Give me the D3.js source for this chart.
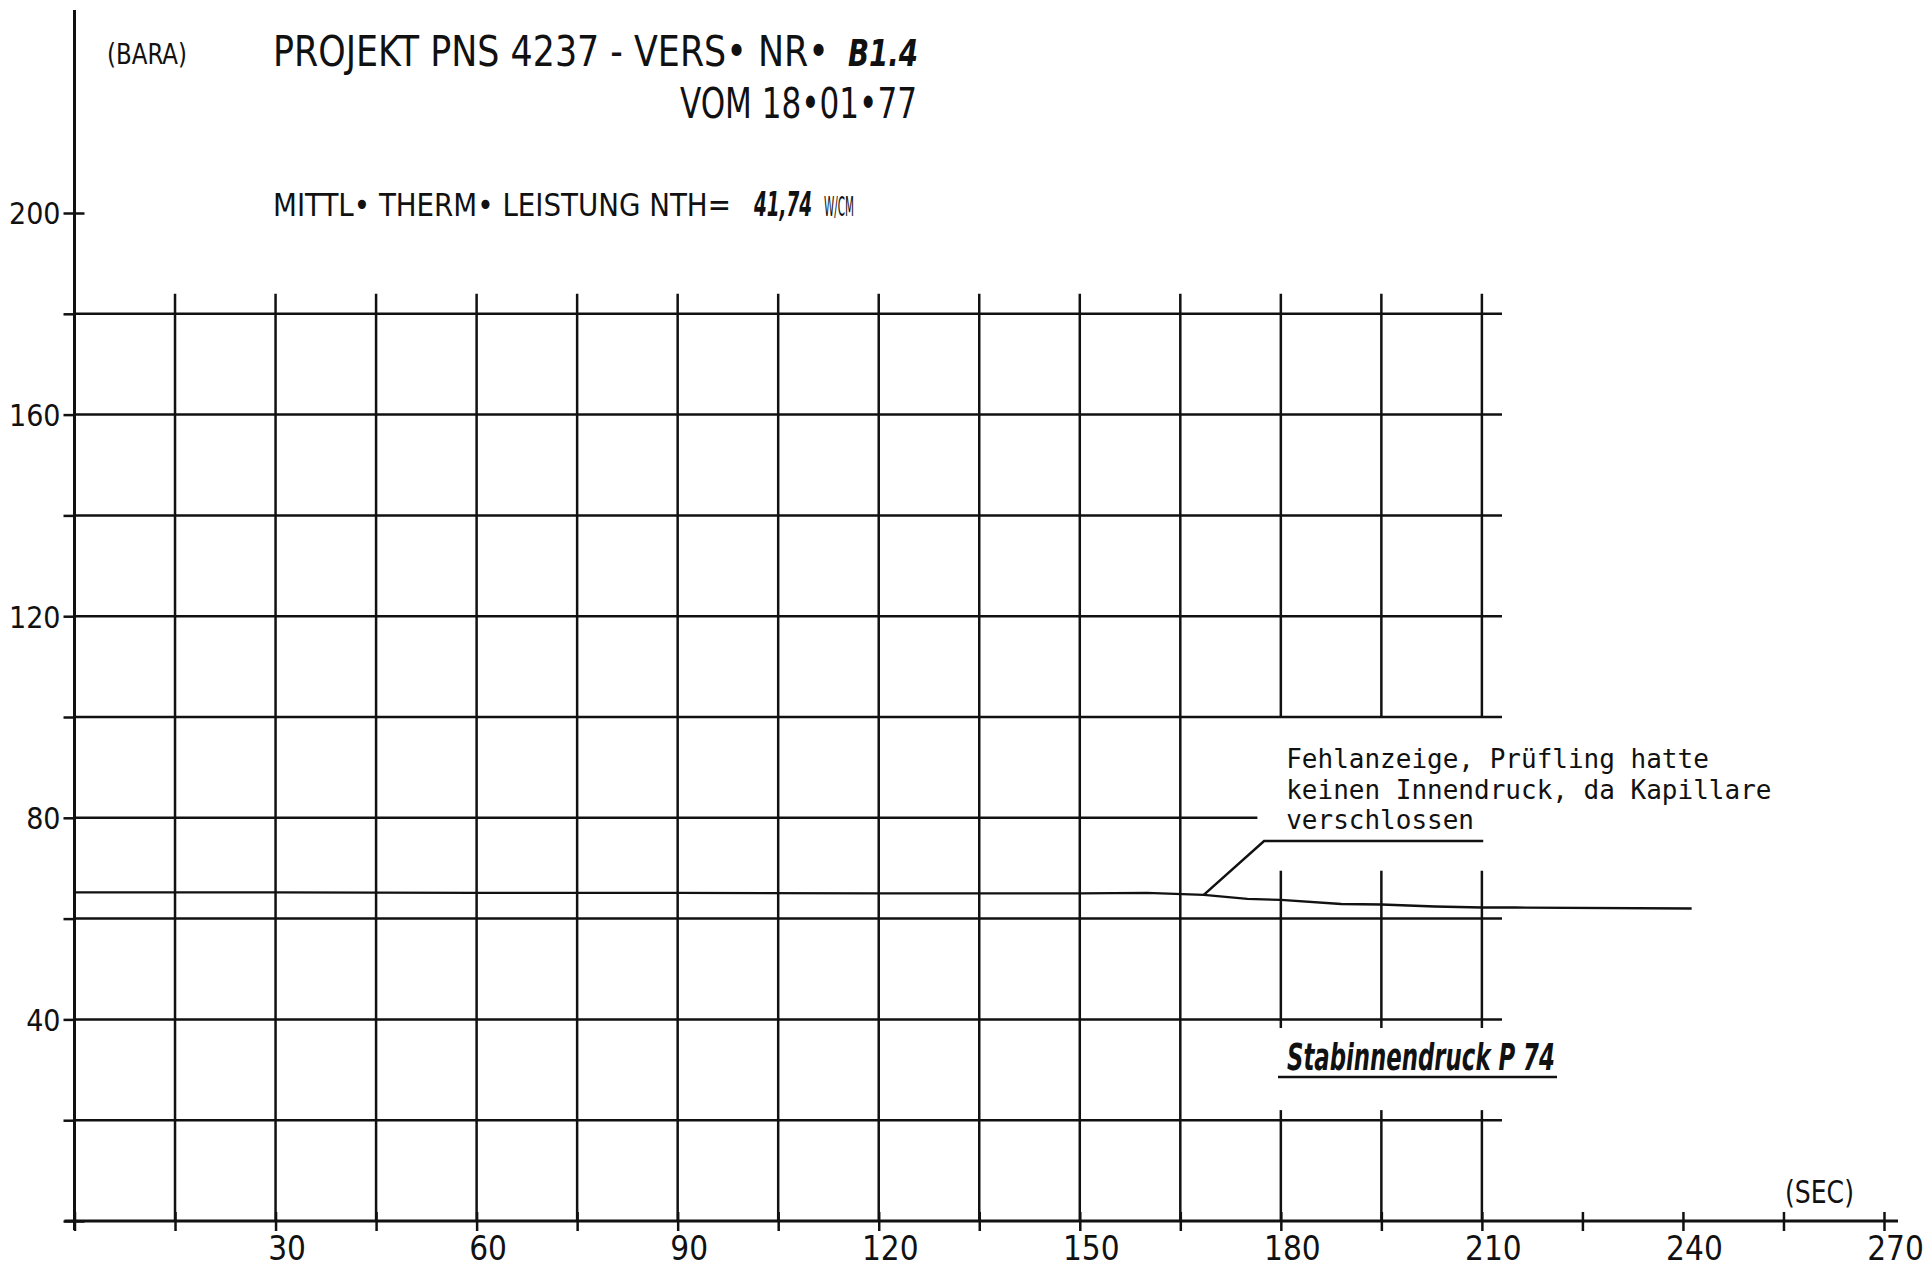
<!DOCTYPE html>
<html>
<head>
<meta charset="utf-8">
<script src="https://cdn.jsdelivr.net/npm/d3@7"></script>
<style>
  html, body { margin: 0; padding: 0; background: #fff; }
  svg { display: block; }
  .plot { font-family: "Liberation Sans Narrow", "DejaVu Sans Condensed", "Roboto Condensed", sans-serif; }
</style>
</head>
<body>
<svg id="chart" width="1928" height="1267"></svg>
<script>
// ---------------- data ----------------
const xTickValues = d3.range(0, 271, 15);
const xTickLabels = [30, 60, 90, 120, 150, 180, 210, 240, 270];
const yTickValues = d3.range(0, 201, 20);
const yTickLabels = [40, 80, 120, 160, 200];

const gridXValues = d3.range(15, 211, 15);
const gridYValues = d3.range(20, 181, 20);
const gridTop = 184;
const gridRight = 213;
const brokenGridX = [180, 195, 210];
const brokenSegments = [[0, 22], [38.3, 69.5], [100, 184]];
const shortGridY = 80;
const shortGridYEnd = 176.5;

// Stabinnendruck P74 (bar) over time (sec)
const seriesTime = [0, 30, 60, 90, 120, 150, 160, 168.5, 175, 180, 189, 195, 203, 210, 215, 241.3];
const seriesP74  = [65.2, 65.2, 65.1, 65.1, 65.0, 65.0, 65.1, 64.7, 63.9, 63.7, 62.9, 62.8, 62.4, 62.2, 62.2, 62.0];

// annotation leader
const leaderTime = [168.5, 177.5, 210.2];
const leaderP    = [64.7, 75.4, 75.4];
const noteLines = ["Fehlanzeige, Prüfling hatte", "keinen Innendruck, da Kapillare", "verschlossen"];
const noteBaseValues = [89.8, 83.7, 77.8];
const noteTime = 180.8;

const seriesLabel = "Stabinnendruck P 74";
const xUnit = "(SEC)";
const yUnit = "(BARA)";

// ---------------- drawing ----------------
const svg = d3.select("#chart");
const g = svg.append("g").attr("class", "plot");

const x = d3.scaleLinear().domain([0, 270]).range([74.5, 1884]);
const y = d3.scaleLinear().domain([0, 200]).range([1221, 213]);

const ink = "#111";
const labelFont = "'Liberation Sans Narrow', 'DejaVu Sans Condensed', sans-serif";

// text squeezed horizontally to a given width (plotter lettering is condensed)
function fitText(str, px, py, size, width, opts = {}) {
  const t = g.append("text")
    .attr("x", 0).attr("y", 0)
    .attr("font-size", size).attr("fill", ink)
    .attr("font-family", opts.family || labelFont)
    .text(str);
  if (opts.bold) t.attr("font-weight", "bold").attr("font-style", "italic");
  const w0 = t.node().getComputedTextLength() || width;
  t.attr("transform", `translate(${px},${py}) scale(${width / w0},1)`);
  return t;
}

// vertical grid lines
gridXValues.forEach(t => {
  const segs = brokenGridX.includes(t) ? brokenSegments : [[0, gridTop]];
  segs.forEach(([a, b]) => {
    g.append("line")
      .attr("x1", x(t)).attr("x2", x(t))
      .attr("y1", y(a)).attr("y2", y(b))
      .attr("stroke", ink).attr("stroke-width", 2.5);
  });
});

// horizontal grid lines
gridYValues.forEach(v => {
  const end = v === shortGridY ? shortGridYEnd : gridRight;
  g.append("line")
    .attr("x1", x(0)).attr("x2", x(end))
    .attr("y1", y(v)).attr("y2", y(v))
    .attr("stroke", ink).attr("stroke-width", 2.5);
});

// x axis
const xAxis = d3.axisBottom(x)
  .tickValues(xTickValues)
  .tickSize(10)
  .tickFormat(d => xTickLabels.includes(d) ? d : "");
const gx = g.append("g").attr("transform", `translate(0,${y(0)})`).call(xAxis);
gx.select(".domain").remove();
gx.selectAll(".tick line").attr("y1", -9).attr("stroke", ink).attr("stroke-width", 2.5);
gx.selectAll(".tick text")
  .attr("y", 39).attr("dy", 0).attr("dx", 11)
  .attr("font-size", 33).attr("fill", ink)
  .attr("font-family", labelFont);
g.append("line")
  .attr("x1", x(0) - 10).attr("x2", x(270) + 14)
  .attr("y1", y(0)).attr("y2", y(0))
  .attr("stroke", ink).attr("stroke-width", 3);

// y axis
const yAxis = d3.axisLeft(y)
  .tickValues(yTickValues)
  .tickSize(11)
  .tickFormat(d => yTickLabels.includes(d) ? d : "");
const gy = g.append("g").attr("transform", `translate(${x(0)},0)`).call(yAxis);
gy.select(".domain").remove();
gy.selectAll(".tick line").attr("stroke", ink).attr("stroke-width", 2.5)
  .attr("x2", d => (d === 200 || d === 0) ? 10 : -11);
gy.selectAll(".tick line").filter(d => d === 200 || d === 0).attr("x1", -11);
gy.selectAll(".tick text")
  .attr("x", -14).attr("dy", "0.36em")
  .attr("font-size", 30).attr("fill", ink)
  .attr("font-family", labelFont);
g.append("line")
  .attr("x1", x(0)).attr("x2", x(0))
  .attr("y1", 10).attr("y2", y(0) + 9)
  .attr("stroke", ink).attr("stroke-width", 3);

// data series
const line = d3.line().x(d => x(d[0])).y(d => y(d[1]));
g.append("path")
  .datum(seriesTime.map((t, i) => [t, seriesP74[i]]))
  .attr("d", line)
  .attr("fill", "none").attr("stroke", ink).attr("stroke-width", 2.3);

// leader line
g.append("path")
  .datum(leaderTime.map((t, i) => [t, leaderP[i]]))
  .attr("d", line)
  .attr("fill", "none").attr("stroke", ink).attr("stroke-width", 2.5);

// annotation text (typewriter)
noteLines.forEach((s, i) => {
  g.append("text")
    .attr("x", x(noteTime)).attr("y", y(noteBaseValues[i]))
    .attr("font-family", "'DejaVu Sans Mono', 'Liberation Mono', monospace")
    .attr("font-size", 26).attr("fill", ink)
    .text(s);
});

// series label (handwritten, bold italic) with underline
fitText(seriesLabel, 1287, 1070, 37, 268, { bold: true });
g.append("line")
  .attr("x1", 1278).attr("x2", 1557).attr("y1", 1077).attr("y2", 1077)
  .attr("stroke", ink).attr("stroke-width", 2.6);

// units
fitText(yUnit, 107, 64, 28, 80);
fitText(xUnit, 1785, 1203, 32, 69);

// header
fitText("PROJEKT  PNS 4237 - VERS• NR•", 273, 66, 42, 556);
fitText("B1.4", 848, 66, 38, 70, { bold: true });
fitText("VOM 18•01•77", 680, 118, 42, 237);
fitText("MITTL• THERM• LEISTUNG  NTH=", 273, 216, 32, 458);
fitText("41,74", 754, 216, 33, 58, { bold: true });
fitText("W/CM", 824, 216, 26, 30);
</script>
</body>
</html>
